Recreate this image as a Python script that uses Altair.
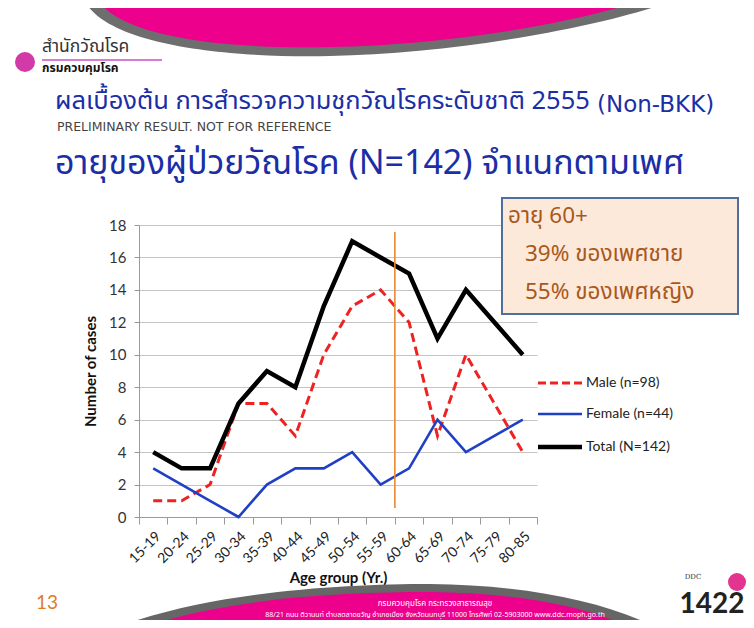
import altair as alt
import pandas as pd

# ---------------- data ----------------
ages = ["15-19", "20-24", "25-29", "30-34", "35-39", "40-44", "45-49",
        "50-54", "55-59", "60-64", "65-69", "70-74", "75-79", "80-85"]
male = [1, 1, 2, 7, 7, 5, 10, 13, 14, 12, 5, 10, 7, 4]
female = [3, 2, 1, 0, 2, 3, 3, 4, 2, 3, 6, 4, 5, 6]
total = [4, 3, 3, 7, 9, 8, 13, 17, 16, 15, 11, 14, 12, 10]
series_names = ["Male (n=98)", "Female (n=44)", "Total (N=142)"]
y_ticks = [0, 2, 4, 6, 8, 10, 12, 14, 16, 18]
cut_age = "60-64"

title1 = "ผลเบื้องต้น การสำรวจความชุกวัณโรคระดับชาติ  2555"
title1b = "(Non-BKK)"
subtitle = "PRELIMINARY RESULT. NOT FOR REFERENCE"
title2 = "อายุของผู้ป่วยวัณโรค (N=142) จำแนกตามเพศ"
note_lines = ["อายุ 60+", "39% ของเพศชาย", "55% ของเพศหญิง"]
footer1 = "กรมควบคุมโรค กระทรวงสาธารณสุข"
footer2 = "88/21 ถนน ติวานนท์ ตำบลตลาดขวัญ อำเภอเมือง จังหวัดนนทบุรี 11000 โทรศัพท์ 02-5903000 www.ddc.moph.go.th"

rows = []
for name, vals in zip(series_names, [male, female, total]):
    for a, v in zip(ages, vals):
        rows.append({"age": a, "series": name, "value": v})
df = pd.DataFrame(rows)
one = pd.DataFrame({"k": [0]})

# ---------------- layout ----------------
PL, PT = 131, 217          # padding (plot origin at page 139,225)
W, H = 398, 292
OX, OY = PL + 8, PT + 8    # page coords of plot origin

def P(x, y):
    return f"{x - OX:.1f},{y - OY:.1f}"

FONT = "Lato"
THAI = "Noto Sans Thai, Noto Sans, sans-serif"

xscale = alt.Scale(type="band", domain=ages, paddingInner=0, paddingOuter=0)
yscale = alt.Scale(domain=[0, 18])

xaxis = alt.Axis(title="Age group (Yr.)", labelAngle=-45, tickBand="extent",
                 grid=False, domainColor="#9a9a9a", tickColor="#9a9a9a",
                 tickSize=7, labelPadding=5, labelFontSize=14, labelColor="#222",
                 labelFont=FONT, titleFont=FONT, titleFontSize=15,
                 titleFontWeight="bold", titleColor="#111", titlePadding=5)
yaxis = alt.Axis(title="Number of cases", values=y_ticks, tickCount=10, grid=True,
                 gridColor="#c4c4c4", gridWidth=1.2, domainColor="#9a9a9a",
                 tickColor="#9a9a9a", tickSize=5, labelPadding=8,
                 labelFontSize=15, labelColor="#333", labelFont=FONT,
                 titleFont=FONT, titleFontSize=15, titleFontWeight="bold",
                 titleColor="#111", titlePadding=10)

def enc_x():
    return alt.X("age:N", scale=xscale, sort=ages, axis=xaxis)

def enc_y():
    return alt.Y("value:Q", scale=yscale, axis=yaxis)

base = alt.Chart(df)
male_line = base.transform_filter(alt.datum.series == series_names[0]).mark_line(
    color="#ee2222", strokeWidth=3, strokeDash=[9, 5]).encode(x=enc_x(), y=enc_y())
female_line = base.transform_filter(alt.datum.series == series_names[1]).mark_line(
    color="#1f3fc4", strokeWidth=2.6).encode(x=enc_x(), y=enc_y())
total_line = base.transform_filter(alt.datum.series == series_names[2]).mark_line(
    color="#000000", strokeWidth=4.5, strokeJoin="miter").encode(x=enc_x(), y=enc_y())

cut = alt.Chart(pd.DataFrame({"age": [cut_age]})).mark_rule(
    color="#e8892e", strokeWidth=1.6).encode(
    x=alt.X("age:N", scale=xscale, sort=ages, axis=xaxis, bandPosition=0),
    y=alt.value(7), y2=alt.value(283))

# legend (custom)
leg_layers = []
leg_styles = [dict(color="#ee2222", strokeWidth=3, strokeDash=[8, 4]),
              dict(color="#1f3fc4", strokeWidth=2.6),
              dict(color="#000000", strokeWidth=4.5)]
leg_y = [383, 414, 447]
for name, st, yy in zip(series_names, leg_styles, leg_y):
    leg_layers.append(alt.Chart(one).mark_rule(**st).encode(
        x=alt.value(538 - OX), x2=alt.value(582 - OX), y=alt.value(yy - OY)))
    leg_layers.append(alt.Chart(one).mark_text(
        text=name, align="left", baseline="middle", font=FONT, fontSize=14,
        color="#222").encode(x=alt.value(586 - OX), y=alt.value(yy - OY)))

# annotation box
box = alt.Chart(one).mark_rect(fill="#fde9da", stroke="#4f6e9c", strokeWidth=2).encode(
    x=alt.value(502 - OX), x2=alt.value(738 - OX), y=alt.value(198 - OY), y2=alt.value(314 - OY))
note_pos = [(508, 216), (525, 254), (525, 292)]
notes = [alt.Chart(one).mark_text(text=t, align="left", baseline="middle", font=THAI,
                                  fontSize=22.5, color="#a9581c").encode(
    x=alt.value(px - OX), y=alt.value(py - OY)) for t, (px, py) in zip(note_lines, note_pos)]

# decorative swooshes (slide template)
def blob(path, color):
    return alt.Chart(one).mark_point(shape=path, size=4, filled=True, fill=color,
                                     opacity=1, strokeWidth=0).encode(
        x=alt.value(0), y=alt.value(0))

top_gray = blob(f"M{P(84,0)} C{P(110,50)} {P(250,58)} {P(330,56)} C{P(450,54)} {P(600,28)} {P(675,0)} Z", "#6e6e6e")
top_pink = blob(f"M{P(98,0)} C{P(125,42)} {P(250,49)} {P(330,47)} C{P(450,45)} {P(580,22)} {P(642,0)} Z", "#ec008c")
bot_gray = blob(f"M{P(105,632)} C{P(200,592)} {P(340,584)} {P(430,584)} C{P(530,585)} {P(610,602)} {P(665,632)} Z", "#666666")
bot_pink = blob(f"M{P(130,632)} C{P(220,598)} {P(340,592)} {P(430,592)} C{P(520,593)} {P(590,606)} {P(640,632)} Z", "#ec008c")

def txt(t, x, y, size, color, font=THAI, weight="normal", align="left"):
    return alt.Chart(one).mark_text(text=t, align=align, baseline="middle", font=font,
                                    fontSize=size, color=color, fontWeight=weight).encode(
        x=alt.value(x - OX), y=alt.value(y - OY))

texts = [
    txt(title1, 55, 101, 25.5, "#1b2ea6"),
    txt(title1b, 597, 105, 23, "#1b2ea6", font="DejaVu Sans"),
    txt(subtitle, 57, 127, 12.5, "#444444", font="DejaVu Sans"),
    txt(title2, 55, 164, 34, "#1b2ea6"),
    txt(footer1, 435, 604, 8, "#ffffff", align="center"),
    txt(footer2, 435, 615, 7, "#ffffff", align="center"),
    txt("13", 47, 603, 19, "#e07b2a", font=FONT, align="center"),
    txt("1422", 712, 605, 28, "#222222", font=FONT, weight="bold", align="center"),
    txt("DDC", 693, 577, 7, "#333333", font="DejaVu Serif", align="center"),
    txt("สำนักวัณโรค", 42, 47, 17.5, "#333333"),
    txt("กรมควบคุมโรค", 42, 68, 12, "#111111", weight="bold"),
]
underline = alt.Chart(one).mark_rule(color="#c84fc0", strokeWidth=1.5).encode(
    x=alt.value(42 - OX), x2=alt.value(162 - OX), y=alt.value(60 - OY))
bug = alt.Chart(one).mark_point(shape="circle", size=400, filled=True, fill="#d23aa8",
                                opacity=1, strokeWidth=0).encode(
    x=alt.value(25 - OX), y=alt.value(62 - OY))
bug2 = alt.Chart(one).mark_point(shape="circle", size=324, filled=True, fill="#e3348f",
                                 opacity=1, strokeWidth=0).encode(
    x=alt.value(737 - OX), y=alt.value(582 - OY))

chart = alt.layer(
    top_gray, top_pink, bot_gray, bot_pink,
    male_line, female_line, total_line, cut,
    box, *notes, *leg_layers, *texts, underline, bug, bug2,
).properties(
    width=W, height=H,
    autosize=alt.AutoSizeParams(type="none"),
    padding={"left": PL, "top": PT, "right": 738 - PL - W, "bottom": 612 - PT - H},
    background="white",
).configure_view(stroke=None)

chart.save("out.html", embed_options={"renderer": "svg", "actions": False})
